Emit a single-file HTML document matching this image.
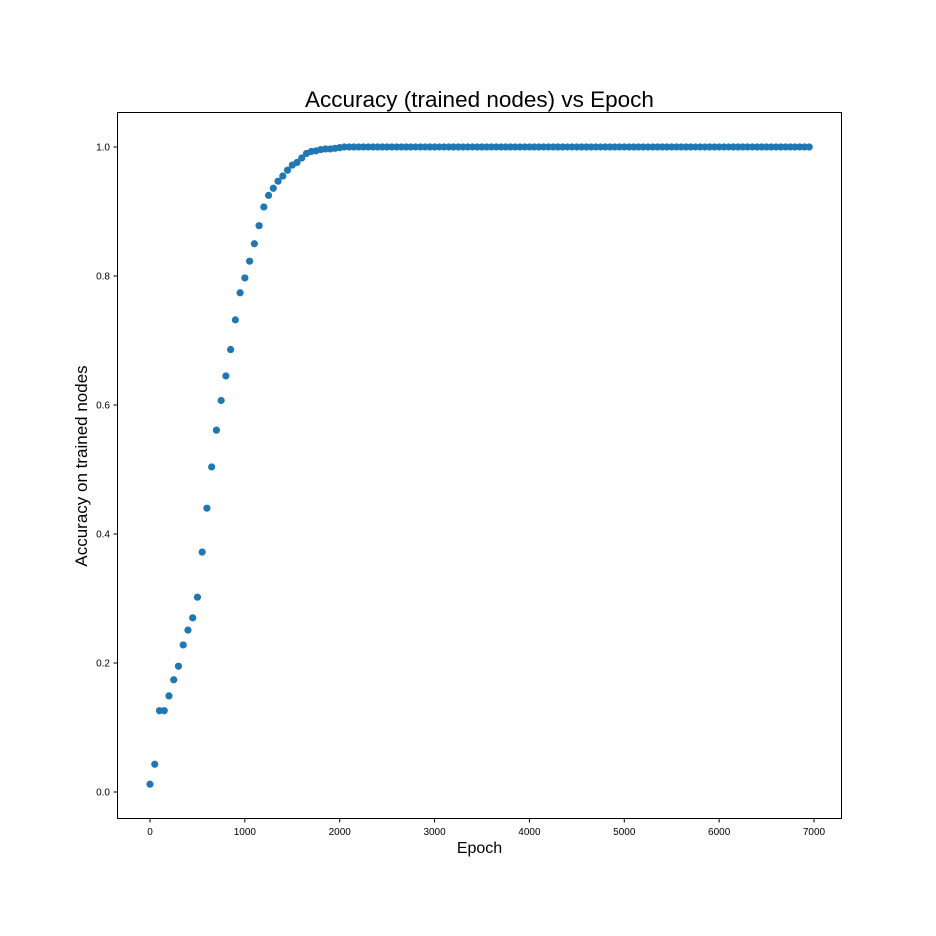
<!DOCTYPE html>
<html><head><meta charset="utf-8"><style>
body{margin:0;background:#fff;}
svg{display:block;font-family:"Liberation Sans","DejaVu Sans",sans-serif;}
</style></head><body>
<svg id="chart" width="936" height="936" viewBox="0 0 936 936">
<rect width="936" height="936" fill="#fff"/>
<text x="479.5" y="107" text-anchor="middle" font-size="22.5">Accuracy (trained nodes) vs Epoch</text>
<text x="479.5" y="853" text-anchor="middle" font-size="16">Epoch</text>
<text transform="translate(87,466) rotate(-90)" text-anchor="middle" font-size="17">Accuracy on trained nodes</text>
<g id="xticks"></g>
<g id="yticks"></g>
<g id="points"></g>
<rect x="117.5" y="112.5" width="724" height="706" fill="none" stroke="#000" stroke-width="1"/>
</svg>
<script>
const xTickValues = [0,1000,2000,3000,4000,5000,6000,7000];
const yTickValues = [0.0,0.2,0.4,0.6,0.8,1.0];
const yTickLabels = ["0.0","0.2","0.4","0.6","0.8","1.0"];
const earlyAccuracy = [0.012,0.043,0.126,0.126,0.149,0.174,0.195,0.228,0.251,0.270,0.302,0.372,0.440,0.504,0.561,0.607,0.645,0.686,0.732,0.774,0.797,0.823,0.850,0.878,0.907,0.925,0.936,0.947,0.955,0.964,0.972,0.976,0.983,0.990,0.993,0.994,0.996,0.997,0.997,0.998,0.999];
const lateAccuracy = 1.0;
const epochStep = 50;
const epochCount = 140;

const NS="http://www.w3.org/2000/svg";
function xs(v){return 150 + v*(664/7000);}
function ys(v){return 792 - v*645;}
const xg=document.getElementById('xticks'), yg=document.getElementById('yticks'), pg=document.getElementById('points');
xTickValues.forEach(v=>{
  const l=document.createElementNS(NS,'line');
  l.setAttribute('x1',xs(v));l.setAttribute('x2',xs(v));l.setAttribute('y1',819);l.setAttribute('y2',822.5);l.setAttribute('stroke','#000');
  
  
  xg.appendChild(l);
  const t=document.createElementNS(NS,'text');
  t.setAttribute('x',xs(v));t.setAttribute('y',835);t.setAttribute('text-anchor','middle');t.setAttribute('font-size','10');
  t.textContent=v;
  
  
  xg.appendChild(t);
});
yTickValues.forEach((v,i)=>{
  const l=document.createElementNS(NS,'line');
  l.setAttribute('x1',113.5);l.setAttribute('x2',117);l.setAttribute('y1',ys(v));l.setAttribute('y2',ys(v));l.setAttribute('stroke','#000');
  
  
  yg.appendChild(l);
  const t=document.createElementNS(NS,'text');
  t.setAttribute('x',110);t.setAttribute('y',ys(v)+3.5);t.setAttribute('text-anchor','end');t.setAttribute('font-size','10');
  t.textContent=yTickLabels[i];
  
  
  yg.appendChild(t);
});
for(let i=0;i<epochCount;i++){
  const e=i*epochStep;
  const a=i<earlyAccuracy.length?earlyAccuracy[i]:lateAccuracy;
  const c=document.createElementNS(NS,'circle');
  c.setAttribute('cx',xs(e));c.setAttribute('cy',ys(a));c.setAttribute('r',3.6);c.setAttribute('fill','#1f77b4');
  
  
  pg.appendChild(c);
}
</script>
</body></html>
